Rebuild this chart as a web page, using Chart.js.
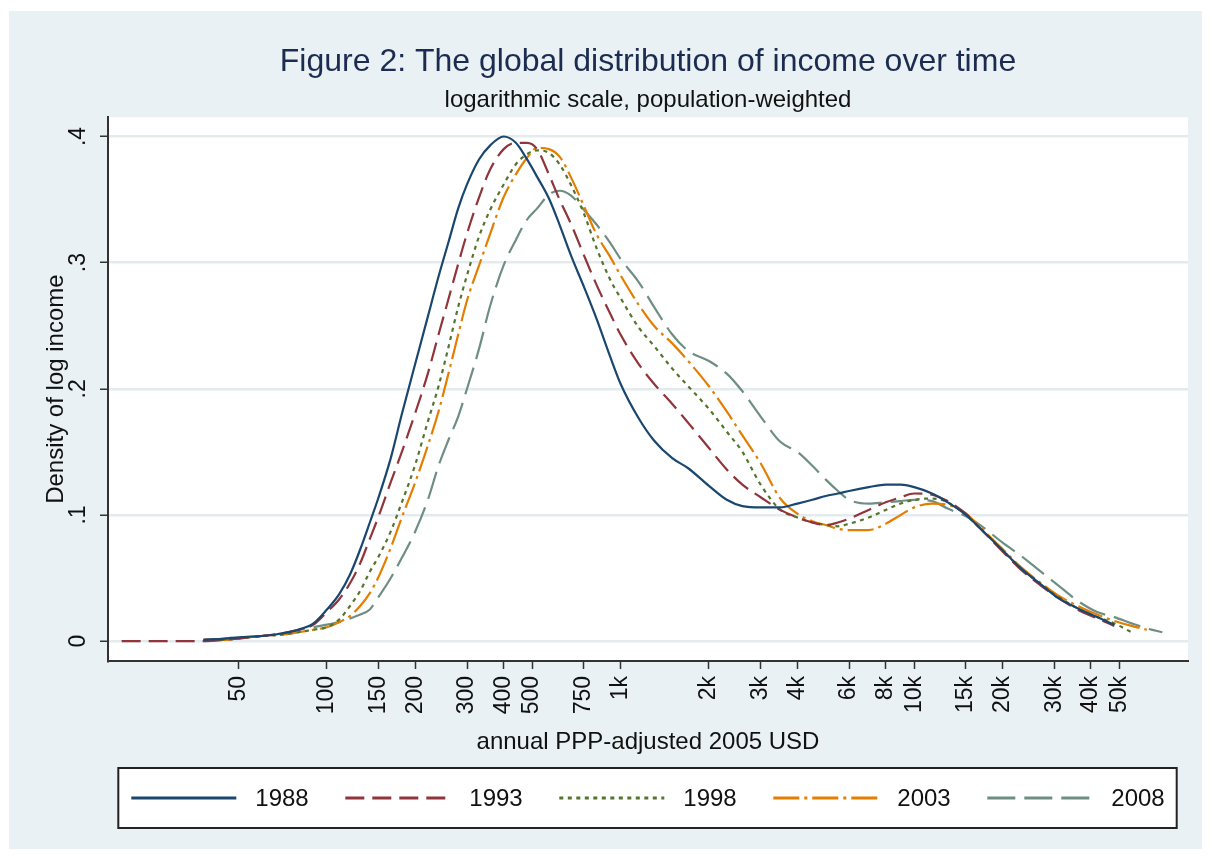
<!DOCTYPE html>
<html>
<head>
<meta charset="utf-8">
<script src="https://cdn.jsdelivr.net/npm/chart.js@4.4.1/dist/chart.umd.min.js"></script>
<style>
  html, body { margin: 0; padding: 0; background: #ffffff; }
  #frame { position: absolute; left: 9px; top: 11px; width: 1193px; height: 838px; background: #e9f1f4; }
  #wrap { position: absolute; left: 0; top: 0; width: 1211px; height: 857px; }
</style>
</head>
<body>
<div id="frame"></div>
<div id="wrap"><canvas id="myChart" width="1211" height="857"></canvas></div>
<script>
const incomes = [20, 25, 30, 38, 45, 50, 60, 70, 80, 90, 100, 110, 120, 130, 140, 150, 165, 180, 200, 220,
    240, 260, 280, 300, 330, 360, 400, 440, 480, 520, 570, 620, 680, 750, 830, 920, 1000, 1150, 1300, 1500,
    1700, 2000, 2300, 2600, 3000, 3500, 4000, 4500, 5000, 5500, 6000, 7000, 8000, 9000, 10000, 11500, 13000, 15000, 17000, 20000,
    23000, 27000, 31000, 36000, 42000, 48000, 55000, 62000, 70000];

const y1988 = [null, null, null, 0.001, 0.002, 0.003, 0.004, 0.006, 0.009, 0.014, 0.025, 0.037, 0.053, 0.073, 0.094, 0.114, 0.145, 0.180, 0.220, 0.256,
    0.289, 0.317, 0.343, 0.362, 0.382, 0.393, 0.400, 0.395, 0.382, 0.368, 0.351, 0.330, 0.305, 0.281, 0.255, 0.226, 0.204, 0.177, 0.159, 0.145,
    0.137, 0.123, 0.112, 0.107, 0.106, 0.106, 0.109, 0.112, 0.115, 0.117, 0.119, 0.122, 0.124, 0.124, 0.122, 0.117, 0.110, 0.100, 0.088, 0.072,
    0.058, 0.045, 0.034, 0.026, 0.019, 0.013, null, null, null];
const y1993 = [0.000, 0.000, 0.000, 0.000, 0.001, 0.002, 0.004, 0.006, 0.009, 0.013, 0.023, 0.033, 0.046, 0.062, 0.081, 0.099, 0.126, 0.150, 0.181, 0.211,
    0.243, 0.272, 0.299, 0.323, 0.352, 0.374, 0.390, 0.395, 0.395, 0.390, 0.370, 0.350, 0.330, 0.306, 0.282, 0.260, 0.243, 0.220, 0.204, 0.188,
    0.173, 0.153, 0.136, 0.124, 0.114, 0.104, 0.098, 0.094, 0.092, 0.094, 0.097, 0.104, 0.110, 0.114, 0.117, 0.116, 0.111, 0.101, 0.088, 0.071,
    0.057, 0.044, 0.034, 0.025, 0.018, 0.012, null, null, null];
const y1998 = [null, null, null, 0.001, 0.001, 0.002, 0.004, 0.005, 0.007, 0.009, 0.011, 0.017, 0.028, 0.040, 0.055, 0.067, 0.087, 0.110, 0.140, 0.173,
    0.202, 0.234, 0.265, 0.290, 0.321, 0.342, 0.362, 0.378, 0.386, 0.389, 0.387, 0.378, 0.361, 0.339, 0.311, 0.287, 0.272, 0.249, 0.234, 0.216,
    0.202, 0.184, 0.166, 0.150, 0.124, 0.104, 0.098, 0.094, 0.092, 0.091, 0.093, 0.098, 0.104, 0.109, 0.112, 0.113, 0.110, 0.100, 0.088, 0.072,
    0.058, 0.045, 0.035, 0.026, 0.019, 0.014, 0.007, null, null];
const y2003 = [null, null, null, 0.001, 0.001, 0.002, 0.004, 0.005, 0.007, 0.009, 0.011, 0.015, 0.020, 0.028, 0.038, 0.051, 0.074, 0.098, 0.126, 0.154,
    0.182, 0.213, 0.243, 0.270, 0.298, 0.323, 0.352, 0.370, 0.383, 0.391, 0.390, 0.384, 0.367, 0.345, 0.322, 0.305, 0.290, 0.267, 0.250, 0.236,
    0.222, 0.202, 0.182, 0.163, 0.141, 0.113, 0.101, 0.095, 0.092, 0.089, 0.088, 0.088, 0.093, 0.100, 0.106, 0.109, 0.108, 0.101, 0.089, 0.073,
    0.059, 0.046, 0.036, 0.028, 0.021, 0.016, 0.012, 0.009, null];
const y2008 = [null, null, null, 0.001, 0.002, 0.003, 0.004, 0.006, 0.009, 0.011, 0.013, 0.015, 0.018, 0.021, 0.025, 0.035, 0.050, 0.066, 0.087, 0.111,
    0.139, 0.160, 0.178, 0.200, 0.232, 0.266, 0.298, 0.318, 0.334, 0.343, 0.354, 0.357, 0.353, 0.342, 0.330, 0.316, 0.303, 0.285, 0.265, 0.243,
    0.230, 0.222, 0.212, 0.198, 0.178, 0.158, 0.150, 0.139, 0.128, 0.119, 0.112, 0.109, 0.110, 0.111, 0.112, 0.111, 0.105, 0.099, 0.091, 0.078,
    0.068, 0.055, 0.044, 0.032, 0.023, 0.019, 0.014, 0.010, 0.007];

const years = ['1988', '1993', '1998', '2003', '2008'];

const xTicks = [50, 100, 150, 200, 300, 400, 500, 750, 1000, 2000, 3000, 4000, 6000, 8000, 10000, 15000, 20000, 30000, 40000, 50000];
const xTickLabels = ['50', '100', '150', '200', '300', '400', '500', '750', '1k', '2k', '3k', '4k', '6k', '8k', '10k', '15k', '20k', '30k', '40k', '50k'];
const yTicks = [0, 0.1, 0.2, 0.3, 0.4];
const yTickLabels = ['0', '.1', '.2', '.3', '.4'];

const FONT = "'Liberation Sans', Arial, sans-serif";
Chart.defaults.font.family = FONT;

const styles = [
    { color: '#1a476f', dash: [] },
    { color: '#90353b', dash: [19, 8] },
    { color: '#55752f', dash: [4, 4.5] },
    { color: '#e37e00', dash: [26, 5, 3, 5] },
    { color: '#6e8e84', dash: [28, 9] }
];

const seriesValues = [y1988, y1993, y1998, y2003, y2008];

const datasets = years.map((year, k) => ({
    label: year,
    data: incomes.map((x, i) => ({ x: x, y: seriesValues[k][i] })),
    borderColor: styles[k].color,
    borderDash: styles[k].dash,
    borderWidth: 2.2,
    pointRadius: 0,
    fill: false,
    spanGaps: false,
    cubicInterpolationMode: 'monotone'
}));

// white plot region over the bluish frame
const plotBackground = {
    id: 'plotBackground',
    beforeDraw(chart) {
        const { ctx, chartArea } = chart;
        ctx.save();
        ctx.fillStyle = '#ffffff';
        ctx.fillRect(chartArea.left, chartArea.top, chartArea.right - chartArea.left, chartArea.bottom - chartArea.top);
        ctx.restore();
    }
};

// y tick labels are turned like the axis title
const yLabels = {
    id: 'yLabels',
    afterDraw(chart) {
        const { ctx } = chart;
        const y = chart.scales.y;
        ctx.save();
        ctx.font = `23px ${FONT}`;
        ctx.fillStyle = '#111111';
        ctx.textAlign = 'center';
        ctx.textBaseline = 'middle';
        yTicks.forEach((v, i) => {
            ctx.save();
            ctx.translate(y.right - 29, y.getPixelForValue(v));
            ctx.rotate(-Math.PI / 2);
            ctx.fillText(yTickLabels[i], 0, 0);
            ctx.restore();
        });
        ctx.restore();
    }
};

const boxLegend = {
    id: 'boxLegend',
    afterDraw(chart) {
        const { ctx, chartArea } = chart;
        const center = (chartArea.left + chartArea.right) / 2;
        const lineLen = 105, gap = 19, pitch = 214;
        ctx.save();
        ctx.font = `24px ${FONT}`;
        const textW = ctx.measureText(years[0]).width;
        const total = pitch * (years.length - 1) + lineLen + gap + textW;
        const x0 = center - total / 2;
        const top = chartArea.bottom + 107;
        const h = 60;
        ctx.fillStyle = '#ffffff';
        ctx.fillRect(x0 - 13, top, total + 25, h);
        ctx.strokeStyle = '#222222';
        ctx.lineWidth = 2;
        ctx.strokeRect(x0 - 13, top, total + 25, h);
        const midY = top + h / 2;
        chart.data.datasets.forEach((ds, k) => {
            const x = x0 + k * pitch;
            ctx.beginPath();
            ctx.setLineDash(ds.borderDash);
            ctx.strokeStyle = ds.borderColor;
            ctx.lineWidth = 3;
            ctx.moveTo(x, midY);
            ctx.lineTo(x + lineLen, midY);
            ctx.stroke();
            ctx.setLineDash([]);
            ctx.fillStyle = '#111111';
            ctx.textAlign = 'left';
            ctx.textBaseline = 'middle';
            ctx.fillText(ds.label, x + lineLen + gap, midY + 1);
        });
        ctx.restore();
    }
};

const ctx = document.getElementById('myChart').getContext('2d');
const myChart = new Chart(ctx, {
    type: 'line',
    data: { datasets: datasets },
    options: {
        responsive: false,
        animation: false,
        layout: { padding: { left: 9, right: 23, top: 12, bottom: 100 } },
        plugins: {
            legend: { display: false },
            tooltip: { enabled: false },
            title: {
                display: true,
                fullSize: false,
                text: 'Figure 2: The global distribution of income over time',
                color: '#1c2c50',
                font: { size: 32, weight: 'normal' },
                padding: { top: 31, bottom: 0 }
            },
            subtitle: {
                display: true,
                fullSize: false,
                text: 'logarithmic scale, population-weighted',
                color: '#111111',
                font: { size: 24, weight: 'normal' },
                padding: { top: 5, bottom: 2 }
            }
        },
        scales: {
            x: {
                type: 'logarithmic',
                min: 17.97,
                max: 85600,
                afterBuildTicks: scale => { scale.ticks = xTicks.map(v => ({ value: v })); },
                afterFit: scale => { scale.height = 96; },
                grid: { drawOnChartArea: false, drawTicks: true, tickLength: 8, tickColor: '#333333', tickWidth: 1.5 },
                border: { color: '#333333', width: 2 },
                ticks: {
                    autoSkip: false,
                    minRotation: 90,
                    maxRotation: 90,
                    padding: 7,
                    color: '#111111',
                    font: { size: 23 },
                    callback: (value, index) => xTickLabels[index]
                },
                title: {
                    display: true,
                    text: 'annual PPP-adjusted 2005 USD',
                    color: '#111111',
                    font: { size: 24 },
                    padding: { top: 0, bottom: 0 }
                }
            },
            y: {
                min: -0.0158,
                max: 0.4153,
                afterBuildTicks: scale => { scale.ticks = yTicks.map(v => ({ value: v })); },
                afterFit: scale => { scale.width = 99; },
                grid: { color: '#e3ebee', lineWidth: 2.5, drawTicks: true, tickLength: 8, tickColor: '#333333', tickWidth: 1.5 },
                border: { color: '#333333', width: 2 },
                ticks: { display: false },
                title: {
                    display: true,
                    text: 'Density of log income',
                    color: '#111111',
                    font: { size: 24 },
                    padding: { top: 33, bottom: 0 }
                }
            }
        }
    },
    plugins: [plotBackground, yLabels, boxLegend]
});
</script>
</body>
</html>
